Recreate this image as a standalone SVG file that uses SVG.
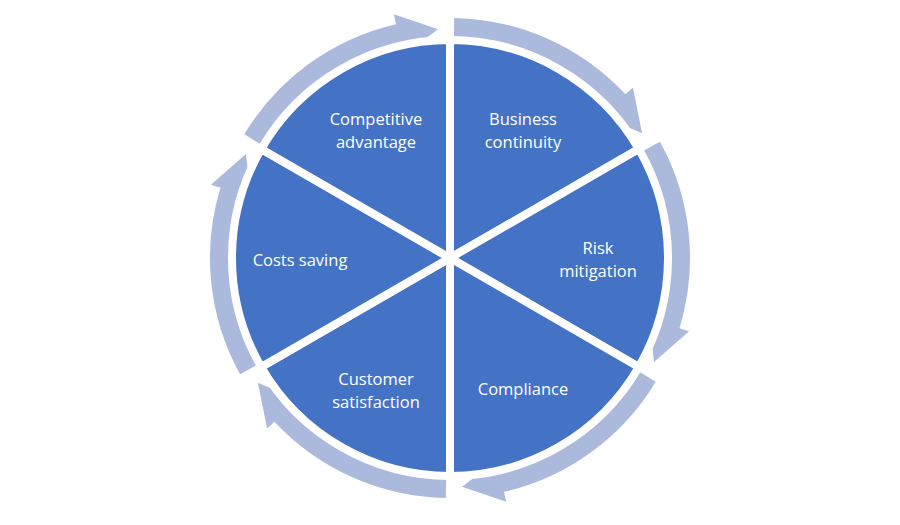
<svg xmlns="http://www.w3.org/2000/svg" width="900" height="525" viewBox="0 0 900 525">
<style>
.w{fill:#4472C4;stroke:#fff;stroke-width:8;stroke-linejoin:miter}
.r{fill:#AAB9DC}
text{font-family:"Open Sans","Liberation Sans",sans-serif;font-size:16.5px;fill:#fff;text-anchor:middle}
</style>
<defs>
<path id="seg" d="M454.2 18.0 A240 240 0 0 1 625.5 94.3 L632.9 87.5 L642.1 133.3 L602.1 116.1 L609.4 109.3 A218 218 0 0 0 453.8 40.0 Z"/>
</defs>
<rect width="900" height="525" fill="#fff"/>
<g id="connectors">
<use href="#seg" class="r"/>
<use href="#seg" class="r" transform="rotate(60 450 258)"/>
<use href="#seg" class="r" transform="rotate(120 450 258)"/>
<use href="#seg" class="r" transform="rotate(180 450 258)"/>
<use href="#seg" class="r" transform="rotate(240 450 258)"/>
<use href="#seg" class="r" transform="rotate(300 450 258)"/>
</g>
<g id="business"><path class="w" d="M450 258 L450 40 A218 218 0 0 1 638.8 149 Z"/><text x="523" y="125">Business</text><text x="523" y="148">continuity</text></g>
<g id="risk"><path class="w" d="M450 258 L638.8 149 A218 218 0 0 1 638.8 367 Z"/><text x="598" y="254">Risk</text><text x="598" y="277">mitigation</text></g>
<g id="compliance"><path class="w" d="M450 258 L638.8 367 A218 218 0 0 1 450 476 Z"/><text x="523" y="395">Compliance</text></g>
<g id="customer"><path class="w" d="M450 258 L450 476 A218 218 0 0 1 261.2 367 Z"/><text x="376" y="385">Customer</text><text x="376" y="408">satisfaction</text></g>
<g id="costs"><path class="w" d="M450 258 L261.2 367 A218 218 0 0 1 261.2 149 Z"/><text x="300" y="266">Costs saving</text></g>
<g id="competitive"><path class="w" d="M450 258 L261.2 149 A218 218 0 0 1 450 40 Z"/><text x="376" y="125">Competitive</text><text x="376" y="148">advantage</text></g>
</svg>
